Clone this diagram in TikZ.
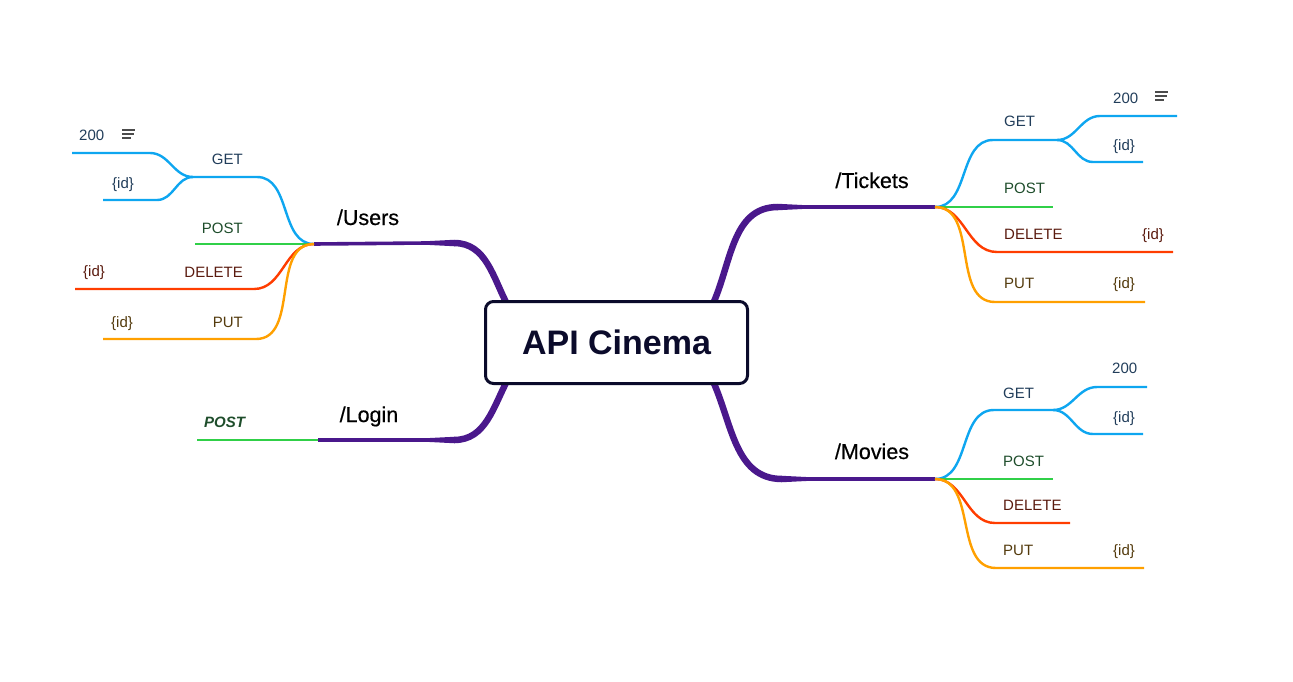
\documentclass[tikz,border=0pt]{standalone}
\usepackage{fontspec}
\setmainfont{Liberation Sans}
\newfontfamily\topicfont{Liberation Sans}[FakeBold=0.5]
\usetikzlibrary{calc,backgrounds}

\definecolor{trunk}{RGB}{74,24,140}
\definecolor{boxline}{HTML}{0B0B2B}
\definecolor{getline}{RGB}{14,166,240}
\definecolor{postline}{RGB}{48,208,72}
\definecolor{delline}{RGB}{255,61,0}
\definecolor{putline}{RGB}{255,160,0}
\definecolor{gettext}{HTML}{213D5A}
\definecolor{posttext}{HTML}{1E4D2B}
\definecolor{deltext}{HTML}{5A1A0E}
\definecolor{puttext}{HTML}{533A0C}

\begin{document}
\begin{tikzpicture}[x=1pt,y=-1pt,
every node/.style={inner sep=0pt},
topic/.style={font=\topicfont\fontsize{21.5}{26}\selectfont,text=black},
lbl/.style={font=\fontsize{15}{18}\selectfont},
trunkline/.style={draw=trunk,line width=6.5pt},
getl/.style={draw=getline,line width=2.4pt,line join=round},
postl/.style={draw=postline,line width=2.4pt},
dell/.style={draw=delline,line width=2.4pt,line join=round},
putl/.style={draw=putline,line width=2.4pt,line join=round},
notes/.style={draw=black!70,line width=1.2pt}]

\useasboundingbox (0,0) rectangle (1293,681);

\node[draw=boxline,line width=3pt,rounded corners=8pt,fill=white,
minimum width=262pt,minimum height=82pt,text=boxline,
font=\fontsize{34}{40}\bfseries\selectfont] (root) at (616.5,342.5) {API Cinema};

% hubs and joints
\coordinate (users) at (314,244);
\coordinate (users-j) at (454,243);
\coordinate (login) at (318,440);
\coordinate (login-j) at (454,440);
\coordinate (tickets) at (935,207);
\coordinate (tickets-j) at (778,207);
\coordinate (movies) at (935,479);
\coordinate (movies-j) at (782,479);

% out/in angles are canvas angles (y axis flipped above)
\begin{scope}[on background layer]
\draw[trunkline] ([xshift=24pt,yshift=-6pt]root.north west) to[out=118,in=0] (users-j);
\draw[trunkline] ([xshift=24pt,yshift=6pt]root.south west) to[out=242,in=0] (login-j);
\draw[trunkline] ([xshift=-37pt,yshift=-6pt]root.north east) to[out=65,in=180] (tickets-j);
\draw[trunkline] ([xshift=-37pt,yshift=6pt]root.south east) to[out=-65,in=180] (movies-j);
\end{scope}

\fill[trunk] ($(users-j)+(0.5,-3.25)$) -- ($(users-j)+(-28,-1.8)$) -- ($(users)+(0,-1.8)$)
 -- ($(users)+(0,1.8)$) -- ($(users-j)+(-28,1.8)$) -- ($(users-j)+(0.5,3.25)$) -- cycle;
\fill[trunk] ($(login-j)+(0.5,-3.25)$) -- ($(login-j)+(-28,-1.8)$) -- ($(login)+(0,-1.8)$)
 -- ($(login)+(0,1.8)$) -- ($(login-j)+(-28,1.8)$) -- ($(login-j)+(0.5,3.25)$) -- cycle;
\fill[trunk] ($(tickets-j)+(-0.5,-3.25)$) -- ($(tickets-j)+(28,-1.8)$) -- ($(tickets)+(0,-1.8)$)
 -- ($(tickets)+(0,1.8)$) -- ($(tickets-j)+(28,1.8)$) -- ($(tickets-j)+(-0.5,3.25)$) -- cycle;
\fill[trunk] ($(movies-j)+(-0.5,-3.25)$) -- ($(movies-j)+(28,-1.8)$) -- ($(movies)+(0,-1.8)$)
 -- ($(movies)+(0,1.8)$) -- ($(movies-j)+(28,1.8)$) -- ($(movies-j)+(-0.5,3.25)$) -- cycle;

\node[topic,anchor=base] (users-t) at (368,225) {/Users};
\node[topic,anchor=base] (login-t) at (369,422) {/Login};
\node[topic,anchor=base] (tickets-t) at (872,188) {/Tickets};
\node[topic,anchor=base] (movies-t) at (872,459) {/Movies};

% /Users
\coordinate (u-get) at (257,177);
\coordinate (u-get-s) at (193,177);
\coordinate (u-200-j) at (150,153);
\coordinate (u-200) at (72,153);
\coordinate (u-id-j) at (157,200);
\coordinate (u-id) at (103,200);
\coordinate (u-post) at (195,244);
\coordinate (u-del-j) at (254,289);
\coordinate (u-del) at (75,289);
\coordinate (u-put-j) at (256,339);
\coordinate (u-put) at (103,339);

\draw[getl] (users) to[out=180,in=0] (u-get) -- (u-get-s) to[out=180,in=0] (u-200-j) -- (u-200);
\draw[getl] (u-get-s) to[out=180,in=0] (u-id-j) -- (u-id);
\draw[postl] (users) -- (u-post);
\draw[dell] (users) to[out=180,in=0] (u-del-j) -- (u-del);
\draw[putl] (users) to[out=180,in=0] (u-put-j) -- (u-put);

\node[lbl,text=gettext,anchor=base east] (u-get-t) at (243,164) {GET};
\node[lbl,text=gettext,anchor=base west] (u-200-t) at (79,140) {200};
\draw[notes] (122,130) -- (135,130) (122,134) -- (134,134) (122,138) -- (131,138);
\node[lbl,text=gettext,anchor=base west] (u-id-t) at (112,188) {\{id\}};
\node[lbl,text=posttext,anchor=base east] (u-post-t) at (243,233) {POST};
\node[lbl,text=deltext,anchor=base east] (u-del-t) at (243,277) {DELETE};
\node[lbl,text=deltext,anchor=base west] (u-del-id) at (83,276) {\{id\}};
\node[lbl,text=puttext,anchor=base east] (u-put-t) at (243,327) {PUT};
\node[lbl,text=puttext,anchor=base west] (u-put-id) at (111,327) {\{id\}};

% /Login
\coordinate (l-post) at (197,440);
\draw[postl] (login) -- (l-post);
\node[lbl,font=\fontsize{15}{18}\bfseries\itshape\selectfont,text=posttext,anchor=base west] (l-post-t) at (204,427) {POST};

% /Tickets
\coordinate (t-get) at (993,140);
\coordinate (t-get-s) at (1057,140);
\coordinate (t-200-j) at (1100,116);
\coordinate (t-200) at (1177,116);
\coordinate (t-id-j) at (1093,162);
\coordinate (t-id) at (1143,162);
\coordinate (t-post) at (1053,207);
\coordinate (t-del-j) at (997,252);
\coordinate (t-del) at (1173,252);
\coordinate (t-put-j) at (995,302);
\coordinate (t-put) at (1145,302);

\draw[getl] (tickets) to[out=0,in=180] (t-get) -- (t-get-s) to[out=0,in=180] (t-200-j) -- (t-200);
\draw[getl] (t-get-s) to[out=0,in=180] (t-id-j) -- (t-id);
\draw[postl] (tickets) -- (t-post);
\draw[dell] (tickets) to[out=0,in=180] (t-del-j) -- (t-del);
\draw[putl] (tickets) to[out=0,in=180] (t-put-j) -- (t-put);

\node[lbl,text=gettext,anchor=base west] (t-get-t) at (1004,126) {GET};
\node[lbl,text=gettext,anchor=base west] (t-200-t) at (1113,103) {200};
\draw[notes] (1155,92) -- (1168,92) (1155,96) -- (1167,96) (1155,100) -- (1164,100);
\node[lbl,text=gettext,anchor=base west] (t-id-t) at (1113,150) {\{id\}};
\node[lbl,text=posttext,anchor=base west] (t-post-t) at (1004,193) {POST};
\node[lbl,text=deltext,anchor=base west] (t-del-t) at (1004,239) {DELETE};
\node[lbl,text=deltext,anchor=base west] (t-del-id) at (1142,239) {\{id\}};
\node[lbl,text=puttext,anchor=base west] (t-put-t) at (1004,288) {PUT};
\node[lbl,text=puttext,anchor=base west] (t-put-id) at (1113,288) {\{id\}};

% /Movies
\coordinate (m-get) at (994,410);
\coordinate (m-get-s) at (1053,410);
\coordinate (m-200-j) at (1097,387);
\coordinate (m-200) at (1147,387);
\coordinate (m-id-j) at (1093,434);
\coordinate (m-id) at (1143,434);
\coordinate (m-post) at (1053,479);
\coordinate (m-del-j) at (995,523);
\coordinate (m-del) at (1070,523);
\coordinate (m-put-j) at (996,568);
\coordinate (m-put) at (1144,568);

\draw[getl] (movies) to[out=0,in=180] (m-get) -- (m-get-s) to[out=0,in=180] (m-200-j) -- (m-200);
\draw[getl] (m-get-s) to[out=0,in=180] (m-id-j) -- (m-id);
\draw[postl] (movies) -- (m-post);
\draw[dell] (movies) to[out=0,in=180] (m-del-j) -- (m-del);
\draw[putl] (movies) to[out=0,in=180] (m-put-j) -- (m-put);

\node[lbl,text=gettext,anchor=base west] (m-get-t) at (1003,398) {GET};
\node[lbl,text=gettext,anchor=base west] (m-200-t) at (1112,373) {200};
\node[lbl,text=gettext,anchor=base west] (m-id-t) at (1113,422) {\{id\}};
\node[lbl,text=posttext,anchor=base west] (m-post-t) at (1003,466) {POST};
\node[lbl,text=deltext,anchor=base west] (m-del-t) at (1003,510) {DELETE};
\node[lbl,text=puttext,anchor=base west] (m-put-t) at (1003,555) {PUT};
\node[lbl,text=puttext,anchor=base west] (m-put-id) at (1113,555) {\{id\}};
\end{tikzpicture}
\end{document}
